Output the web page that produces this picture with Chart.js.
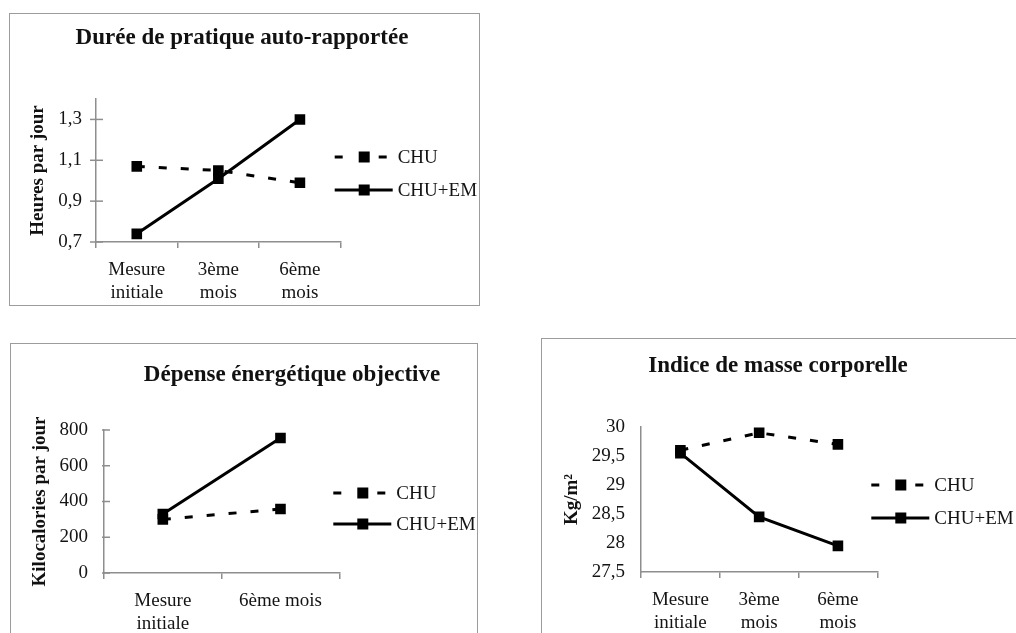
<!DOCTYPE html>
<html>
<head>
<meta charset="utf-8">
<script src="https://cdn.jsdelivr.net/npm/chart.js@4.4.0/dist/chart.umd.min.js"></script>
<style>
  html, body { margin: 0; padding: 0; background: #fff; width: 1016px; height: 633px; overflow: hidden; }
  .panel { position: absolute; border: 1px solid #9c9c9c; box-sizing: border-box; }
  canvas { position: absolute; }
</style>
</head>
<body>
<div class="panel" style="left:9px;top:13px;width:471px;height:293px"></div>
<div class="panel" style="left:10px;top:343px;width:468px;height:400px"></div>
<div class="panel" style="left:541px;top:338px;width:500px;height:400px"></div>

<canvas id="duree" width="471" height="293" style="left:9px;top:13px"></canvas>
<canvas id="depense" width="468" height="290" style="left:10px;top:343px"></canvas>
<canvas id="imc" width="475" height="295" style="left:541px;top:338px"></canvas>

<script>
// Time points and group names
const timepointsThree = [['Mesure', 'initiale'], ['3ème', 'mois'], ['6ème', 'mois']];
const timepointsTwo = [['Mesure', 'initiale'], '6ème mois'];
const groupNames = ['CHU', 'CHU+EM'];

// Self-reported practice duration (hours per day)
const dureeTitle = 'Durée de pratique auto-rapportée';
const dureeAxis = 'Heures par jour';
const dureeChu = [1.07, 1.05, 0.99];
const dureeChuEm = [0.74, 1.01, 1.30];
const dureeTicks = [0.7, 0.9, 1.1, 1.3];

// Objective energy expenditure (kcal per day)
const depenseTitle = 'Dépense énergétique objective';
const depenseAxis = 'Kilocalories par jour';
const depenseChu = [300, 358];
const depenseChuEm = [330, 755];
const depenseTicks = [0, 200, 400, 600, 800];

// Body mass index
const imcTitle = 'Indice de masse corporelle';
const imcAxis = 'Kg/m²';
const imcChu = [29.6, 29.9, 29.7];
const imcChuEm = [29.55, 28.45, 27.95];
const imcTicks = [27.5, 28, 28.5, 29, 29.5, 30];

const SERIF = '"Liberation Serif", "Times New Roman", serif';
Chart.defaults.font.family = SERIF;
Chart.defaults.color = '#141414';

const AXIS_GREY = '#8e8e8e';
const DASH = [8, 14];
const LABEL_SIZE = 19;

const frenchNumber = v => String(+Number(v).toFixed(2)).replace('.', ',');

// Bold heading drawn over each panel
const panelTitle = {
  id: 'panelTitle',
  afterDraw(chart, args, opts) {
    const ctx = chart.ctx;
    ctx.save();
    ctx.font = 'bold 23px ' + SERIF;
    ctx.fillStyle = '#111';
    ctx.textAlign = 'center';
    ctx.textBaseline = 'alphabetic';
    ctx.fillText(opts.text, opts.x, opts.y);
    ctx.restore();
  }
};

// Short tick marks straddling the value axis
const yTickMarks = {
  id: 'yTickMarks',
  beforeDatasetsDraw(chart, args, opts) {
    if (!opts.out && !opts.inner) return;
    const ctx = chart.ctx;
    const sc = chart.scales.y;
    const x0 = sc.right;
    ctx.save();
    ctx.strokeStyle = AXIS_GREY;
    ctx.lineWidth = 1.5;
    sc.ticks.forEach(t => {
      const py = sc.getPixelForValue(t.value);
      ctx.beginPath();
      ctx.moveTo(x0 - opts.out, py);
      ctx.lineTo(x0 + opts.inner, py);
      ctx.stroke();
    });
    ctx.restore();
  }
};

// Legend: line sample with its square marker, then the series name
const lineLegend = {
  id: 'lineLegend',
  afterDraw(chart, args, opts) {
    const ctx = chart.ctx;
    const r = chart.chartArea.right;
    chart.data.datasets.forEach((ds, i) => {
      const y = opts.rows[i];
      const dashed = ds.borderDash && ds.borderDash.length;
      ctx.save();
      ctx.strokeStyle = ds.borderColor;
      ctx.lineWidth = ds.borderWidth;
      ctx.setLineDash(dashed ? [8, 36] : []);
      ctx.beginPath();
      ctx.moveTo(r - 6, y);
      ctx.lineTo(r + (dashed ? 46 : 52), y);
      ctx.stroke();
      ctx.setLineDash([]);
      ctx.fillStyle = ds.pointBackgroundColor;
      ctx.fillRect(r + 23.5 - 5.5, y - 5.5, 11, 11);
      ctx.font = LABEL_SIZE + 'px ' + SERIF;
      ctx.fillStyle = '#141414';
      ctx.textAlign = 'left';
      ctx.textBaseline = 'middle';
      ctx.fillText(ds.label, r + 57, y + 1);
      ctx.restore();
    });
  }
};

function series(label, data, dashed) {
  return {
    label, data,
    borderColor: '#000',
    borderWidth: 3,
    borderDash: dashed ? DASH : [],
    pointStyle: 'rect',
    pointRadius: 7.5,
    pointBorderWidth: 0,
    pointBackgroundColor: '#000',
    tension: 0,
    fill: false
  };
}

function panel(id, p) {
  return new Chart(document.getElementById(id), {
    type: 'line',
    data: {
      labels: p.labels,
      datasets: [series(groupNames[0], p.chu, true), series(groupNames[1], p.chuEm, false)]
    },
    plugins: [panelTitle, yTickMarks, lineLegend],
    options: {
      responsive: false,
      animation: false,
      devicePixelRatio: 1,
      layout: { padding: { top: p.top, right: p.right, left: 0, bottom: 0 } },
      plugins: {
        legend: { display: false },
        tooltip: { enabled: false },
        title: { display: false },
        panelTitle: p.title,
        yTickMarks: p.yMarks,
        lineLegend: { rows: p.legendRows }
      },
      scales: {
        x: {
          type: 'category',
          offset: true,
          grid: { display: true, offset: true, drawOnChartArea: false, drawTicks: true, tickLength: 6, color: AXIS_GREY, lineWidth: 1.5 },
          border: { display: true, color: AXIS_GREY, width: 1.5 },
          ticks: { font: { size: LABEL_SIZE, lineHeight: 1.21 }, padding: 11, maxRotation: 0, autoSkip: false, color: '#141414' },
          afterFit(scale) { scale.height = p.xHeight; }
        },
        y: {
          min: p.min, max: p.max,
          grid: { display: false, drawTicks: false },
          border: { display: true, color: AXIS_GREY, width: 1.5 },
          ticks: { font: { size: LABEL_SIZE }, padding: p.tickPad, color: '#141414', callback: frenchNumber },
          afterBuildTicks(scale) { scale.ticks = p.ticks.map(v => ({ value: v })); },
          title: { display: true, text: p.axisTitle, font: { size: 19, weight: 'bold' }, color: '#111', padding: { top: p.titlePad, bottom: 0 } },
          afterFit(scale) { scale.width = p.yWidth; }
        }
      }
    }
  });
}

panel('duree', {
  labels: timepointsThree, chu: dureeChu, chuEm: dureeChuEm,
  min: 0.7, max: 1.4, ticks: dureeTicks, axisTitle: dureeAxis,
  top: 86, right: 139.3, yWidth: 87, xHeight: 64, tickPad: 14, titlePad: 17.5,
  yMarks: { out: 6, inner: 7 },
  title: { text: dureeTitle, x: 233, y: 31 },
  legendRows: [144, 177]
});

panel('depense', {
  labels: timepointsTwo, chu: depenseChu, chuEm: depenseChuEm,
  min: 0, max: 800, ticks: depenseTicks, axisTitle: depenseAxis,
  top: 87, right: 138.7, yWidth: 94, xHeight: 60, tickPad: 16, titlePad: 18.5,
  yMarks: { out: 2, inner: 6 },
  title: { text: depenseTitle, x: 282, y: 38 },
  legendRows: [150, 181]
});

panel('imc', {
  labels: timepointsThree, chu: imcChu, chuEm: imcChuEm,
  min: 27.5, max: 30, ticks: imcTicks, axisTitle: imcAxis,
  top: 89, right: 138.7, yWidth: 100, xHeight: 61, tickPad: 16, titlePad: 19.5,
  yMarks: { out: 0, inner: 0 },
  title: { text: imcTitle, x: 237, y: 34 },
  legendRows: [147, 180]
});
</script>
</body>
</html>
